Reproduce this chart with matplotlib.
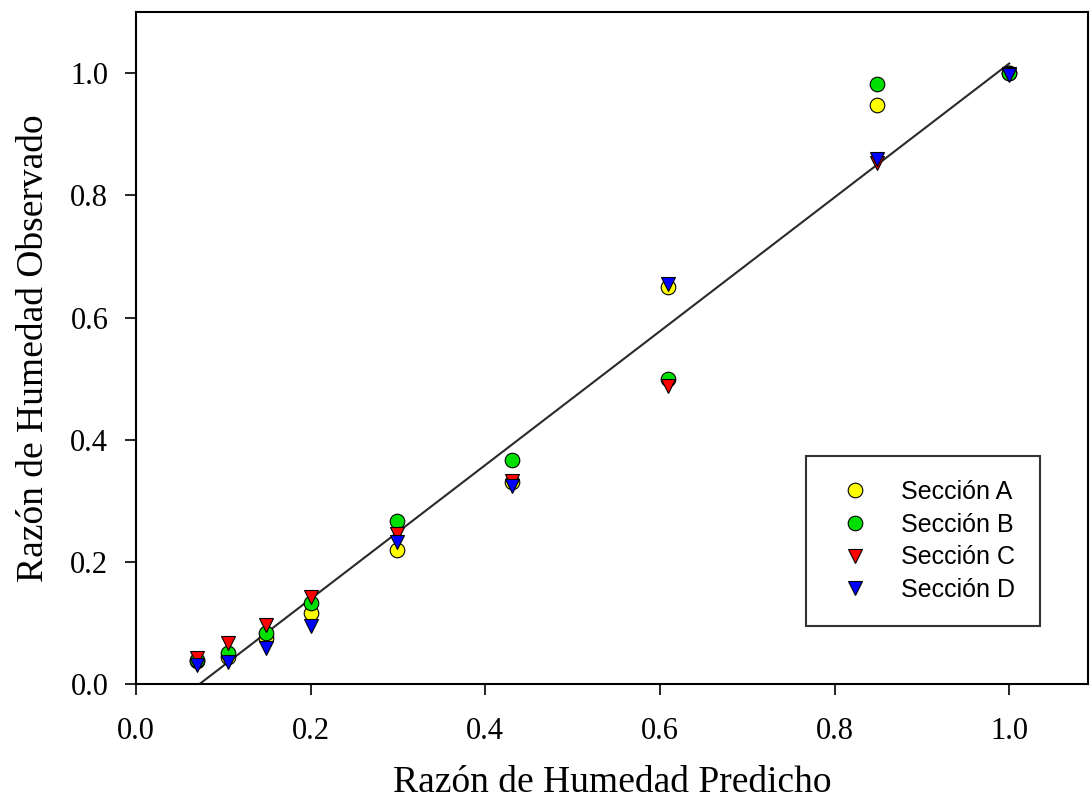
import numpy as np
import matplotlib
matplotlib.use("Agg")
import matplotlib.pyplot as plt

# predicted moisture ratio (shared by all sections)
x_pred = [0.070, 0.105, 0.149, 0.200, 0.299, 0.431, 0.609, 0.849, 1.000]

# observed moisture ratio per section
sec_a = [0.038, 0.045, 0.075, 0.116, 0.219, 0.330, 0.650, 0.948, 1.000]
sec_b = [0.040, 0.050, 0.083, 0.133, 0.267, 0.367, 0.500, 0.983, 1.000]
sec_c = [0.042, 0.067, 0.097, 0.142, 0.245, 0.332, 0.488, 0.853, 0.998]
sec_d = [0.031, 0.036, 0.059, 0.095, 0.233, 0.324, 0.655, 0.859, 0.997]

labels = ["Sección A", "Sección B", "Sección C", "Sección D"]
x_ticks = [0.0, 0.2, 0.4, 0.6, 0.8, 1.0]
y_ticks = [0.0, 0.2, 0.4, 0.6, 0.8, 1.0]

fig = plt.figure(figsize=(10.91, 8.11), dpi=100)
ax = fig.add_axes([0.1247, 0.1566, 0.8723, 0.8284])

# regression line through all points
all_x = np.tile(x_pred, 4)
all_y = np.concatenate([sec_a, sec_b, sec_c, sec_d])
slope, icpt = np.polyfit(all_x, all_y, 1)
xl = np.array([0.0, max(x_pred)])
ax.plot(xl, icpt + slope * xl, color="#2a2a2a", lw=1.5, zorder=1)

styles = [("o", "#FFFF00"), ("o", "#00E000"), ("v", "#FF0000"), ("v", "#0000FF")]
for ys, (mk, col), lab in zip([sec_a, sec_b, sec_c, sec_d], styles, labels):
    ax.plot(x_pred, ys, linestyle="none", marker=mk, markersize=10.5,
            markerfacecolor=col, markeredgecolor="black", markeredgewidth=0.8,
            label=lab, zorder=3)

ax.set_xlim(0, 1.09)
ax.set_ylim(0, 1.1)
ax.set_xticks(x_ticks)
ax.set_yticks(y_ticks)
ax.set_xticklabels([f"{t:.1f}" for t in x_ticks], family="Liberation Serif", fontsize=22)
ax.set_yticklabels([f"{t:.1f}" for t in y_ticks], family="Liberation Serif", fontsize=22)
ax.tick_params(direction="out", length=8, width=1.2)
ax.tick_params(axis="x", pad=16)
ax.tick_params(axis="y", pad=12)
for s in ax.spines.values():
    s.set_linewidth(1.5)

ax.set_xlabel("Razón de Humedad Predicho", family="Liberation Serif", fontsize=27, labelpad=14)
ax.set_ylabel("Razón de Humedad Observado", family="Liberation Serif", fontsize=27, labelpad=14)

leg = ax.legend(loc="upper left", bbox_to_anchor=(0.704, 0.085, 0.246, 0.254), mode="expand",
                frameon=True, fancybox=False, edgecolor="black", borderpad=0.95,
                handlelength=2.0, handletextpad=0.85, labelspacing=0.35, borderaxespad=0,
                prop={"family": "Liberation Sans", "size": 18})
leg.get_frame().set_linewidth(1.5)

fig.savefig("out.png", dpi=100)
